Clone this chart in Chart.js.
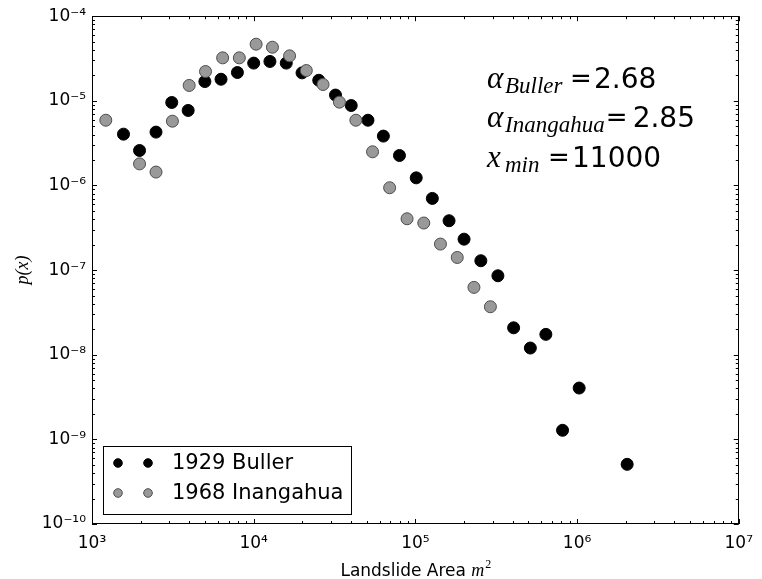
<!DOCTYPE html>
<html lang="en">
<head>
<meta charset="UTF-8">
<title>Landslide Area distribution</title>
<script src="https://cdn.jsdelivr.net/npm/chart.js"></script>
<style>
  html, body { margin: 0; padding: 0; background: #fff; }
  canvas { display: block; }
</style>
</head>
<body>
<canvas id="areaChart" width="762" height="579"></canvas>
<script>
// values
const bullerArea = [1566, 1968, 2488, 3113, 3933, 4990, 6280, 7930, 10000, 12600, 15900, 19900, 25250, 32060, 40100, 50900, 63400, 79700, 101200, 127300, 161500, 200000, 254000, 323800, 405000, 514000, 641000, 813000, 1030000, 2040000];
const bullerP = [4.04e-6, 2.59e-6, 4.27e-6, 9.56e-6, 7.7e-6, 1.69e-5, 1.8e-5, 2.16e-5, 2.79e-5, 2.92e-5, 2.79e-5, 2.14e-5, 1.75e-5, 1.17e-5, 8.8e-6, 5.9e-6, 3.83e-6, 2.26e-6, 1.23e-6, 7.03e-7, 3.83e-7, 2.32e-7, 1.29e-7, 8.57e-8, 2.08e-8, 1.2e-8, 1.74e-8, 1.28e-9, 4.04e-9, 5.07e-10];
const inangahuaArea = [1217, 1968, 2488, 3143, 3990, 5035, 6427, 8150, 10350, 13060, 16670, 21150, 26840, 33900, 42840, 54330, 69300, 88800, 112700, 142900, 181500, 230200, 291000];
const inangahuaP = [5.9e-6, 1.8e-6, 1.44e-6, 5.75e-6, 1.52e-5, 2.22e-5, 3.22e-5, 3.22e-5, 4.67e-5, 4.3e-5, 3.4e-5, 2.28e-5, 1.56e-5, 9.65e-6, 5.9e-6, 2.5e-6, 9.4e-7, 4.04e-7, 3.6e-7, 2.03e-7, 1.41e-7, 6.25e-8, 3.69e-8];

const xTicks = [1e3, 1e4, 1e5, 1e6, 1e7];
const yTicks = [1e-10, 1e-9, 1e-8, 1e-7, 1e-6, 1e-5, 1e-4];

// fit results shown in the top right
const fitSub = ['Buller', 'Inangahua', 'min'];
const fitSym = ['α', 'α', 'x'];
const fitValue = ['2.68', '2.85', '11000'];

const SUP = {'-': '⁻', '0': '⁰', '1': '¹', '2': '²', '3': '³', '4': '⁴', '5': '⁵', '6': '⁶', '7': '⁷', '8': '⁸', '9': '⁹'};
function powLabel(v) {
    const e = Math.round(Math.log10(v));
    return '10' + String(e).split('').map(c => SUP[c]).join('');
}
function toPoints(xs, ys) {
    return xs.map((x, i) => ({x: x, y: ys[i]}));
}

const mathFont = "'Liberation Serif', serif";
const sansFont = "'DejaVu Sans', sans-serif";

const decorations = {
    id: 'decorations',
    afterDraw(chart) {
        const ctx = chart.ctx;
        const {left, right, top, bottom} = chart.chartArea;
        const xs = chart.scales.x, ys = chart.scales.y;
        ctx.save();
        ctx.strokeStyle = '#000';
        ctx.lineWidth = 1;

        // inward ticks on all four sides
        ctx.beginPath();
        for (let d = 3; d <= 7; d++) {
            for (let k = 1; k <= 9; k++) {
                const v = k * Math.pow(10, d);
                if (v > 1e7) break;
                const px = Math.round(xs.getPixelForValue(v)) + 0.5;
                const len = k === 1 ? 5 : 3;
                ctx.moveTo(px, bottom); ctx.lineTo(px, bottom - len);
                ctx.moveTo(px, top); ctx.lineTo(px, top + len);
            }
        }
        for (let d = -10; d <= -4; d++) {
            for (let k = 1; k <= 9; k++) {
                const v = k * Math.pow(10, d);
                if (v > 1.0001e-4) break;
                const py = Math.round(ys.getPixelForValue(v)) + 0.5;
                const len = k === 1 ? 5 : 3;
                ctx.moveTo(left, py); ctx.lineTo(left + len, py);
                ctx.moveTo(right, py); ctx.lineTo(right - len, py);
            }
        }
        ctx.stroke();
        ctx.strokeRect(Math.round(left) + 0.5, Math.round(top) + 0.5, Math.round(right - left) - 1, Math.round(bottom - top) - 1);

        // legend, two markers per entry like matplotlib
        const lx = left + 11, ly = bottom - 78;
        ctx.fillStyle = '#fff';
        ctx.fillRect(lx, ly, 248, 68);
        ctx.strokeRect(lx + 0.5, ly + 0.5, 248, 68);
        chart.data.datasets.forEach((ds, i) => {
            const cy = ly + 17 + i * 30;
            [lx + 15, lx + 45].forEach(cx => {
                ctx.beginPath();
                ctx.arc(cx, cy, 4.3, 0, Math.PI * 2);
                ctx.fillStyle = ds.backgroundColor;
                ctx.fill();
                ctx.strokeStyle = ds.borderColor;
                ctx.stroke();
            });
            ctx.fillStyle = '#000';
            ctx.font = '21px ' + sansFont;
            ctx.textBaseline = 'middle';
            ctx.textAlign = 'left';
            ctx.fillText(ds.label, lx + 69, cy + 1);
        });

        // fit annotation
        const symX = 487, subX = 505;
        const eqX = [570, 605, 548];
        const valX = [594, 632, 572];
        const base = [88, 127, 167];
        ctx.textBaseline = 'alphabetic';
        ctx.fillStyle = '#000';
        fitSym.forEach((s, i) => {
            ctx.font = 'italic 31px ' + mathFont;
            ctx.fillText(s, symX, base[i]);
            ctx.font = 'italic 23px ' + mathFont;
            ctx.fillText(fitSub[i], subX, base[i] + 5);
            const subEnd = subX + ctx.measureText(fitSub[i]).width + 1;
            const ex = Math.max(eqX[i], subEnd);
            ctx.font = '26px ' + sansFont;
            ctx.fillText('=', ex, base[i] - 1);
            ctx.font = '28px ' + sansFont;
            ctx.fillText(fitValue[i], valX[i] + (ex - eqX[i]), base[i]);
        });

        // x axis title with italic m^2
        ctx.font = '17px ' + sansFont;
        const t1 = 'Landslide Area ';
        const w1 = ctx.measureText(t1).width;
        ctx.font = 'italic 18px ' + mathFont;
        const w2 = ctx.measureText('m').width;
        const total = w1 + w2 + 6;
        const tx = (left + right) / 2 - total / 2;
        ctx.font = '17px ' + sansFont;
        ctx.fillText(t1, tx, 576);
        ctx.font = 'italic 18px ' + mathFont;
        ctx.fillText('m', tx + w1, 576);
        ctx.font = '12px ' + mathFont;
        ctx.fillText('2', tx + w1 + w2 + 1, 568);
        ctx.restore();
    }
};

const tickFont = {family: sansFont, size: 17};

new Chart(document.getElementById('areaChart'), {
    type: 'scatter',
    data: {
        datasets: [{
            label: '1929 Buller',
            data: toPoints(bullerArea, bullerP),
            backgroundColor: '#000000',
            borderColor: '#000000',
            borderWidth: 1,
            pointRadius: 6,
            order: 1
        }, {
            label: '1968 Inangahua',
            data: toPoints(inangahuaArea, inangahuaP),
            backgroundColor: '#999999',
            borderColor: '#4d4d4d',
            borderWidth: 1,
            pointRadius: 6,
            order: 0
        }]
    },
    options: {
        responsive: false,
        animation: false,
        layout: {padding: {top: 16, right: 13, left: 0, bottom: 0}},
        plugins: {
            legend: {display: false},
            tooltip: {enabled: false}
        },
        scales: {
            x: {
                type: 'logarithmic',
                min: 1e3,
                max: 1e7,
                grid: {display: false, drawTicks: false},
                border: {display: false},
                afterBuildTicks: s => { s.ticks = xTicks.map(v => ({value: v})); },
                afterFit: s => { s.height = 55; },
                ticks: {callback: powLabel, font: tickFont, color: '#000', padding: 9, autoSkip: false, maxRotation: 0}
            },
            y: {
                type: 'logarithmic',
                min: 1e-10,
                max: 1e-4,
                grid: {display: false, drawTicks: false},
                border: {display: false},
                afterBuildTicks: s => { s.ticks = yTicks.map(v => ({value: v})); },
                afterFit: s => { s.width = 92; },
                ticks: {callback: powLabel, font: tickFont, color: '#000', padding: 6, autoSkip: false},
                title: {
                    display: true,
                    text: 'p(x)',
                    color: '#000',
                    font: {family: mathFont, style: 'italic', size: 18},
                    padding: {top: 12, bottom: 0}
                }
            }
        }
    },
    plugins: [decorations]
});
</script>
</body>
</html>
